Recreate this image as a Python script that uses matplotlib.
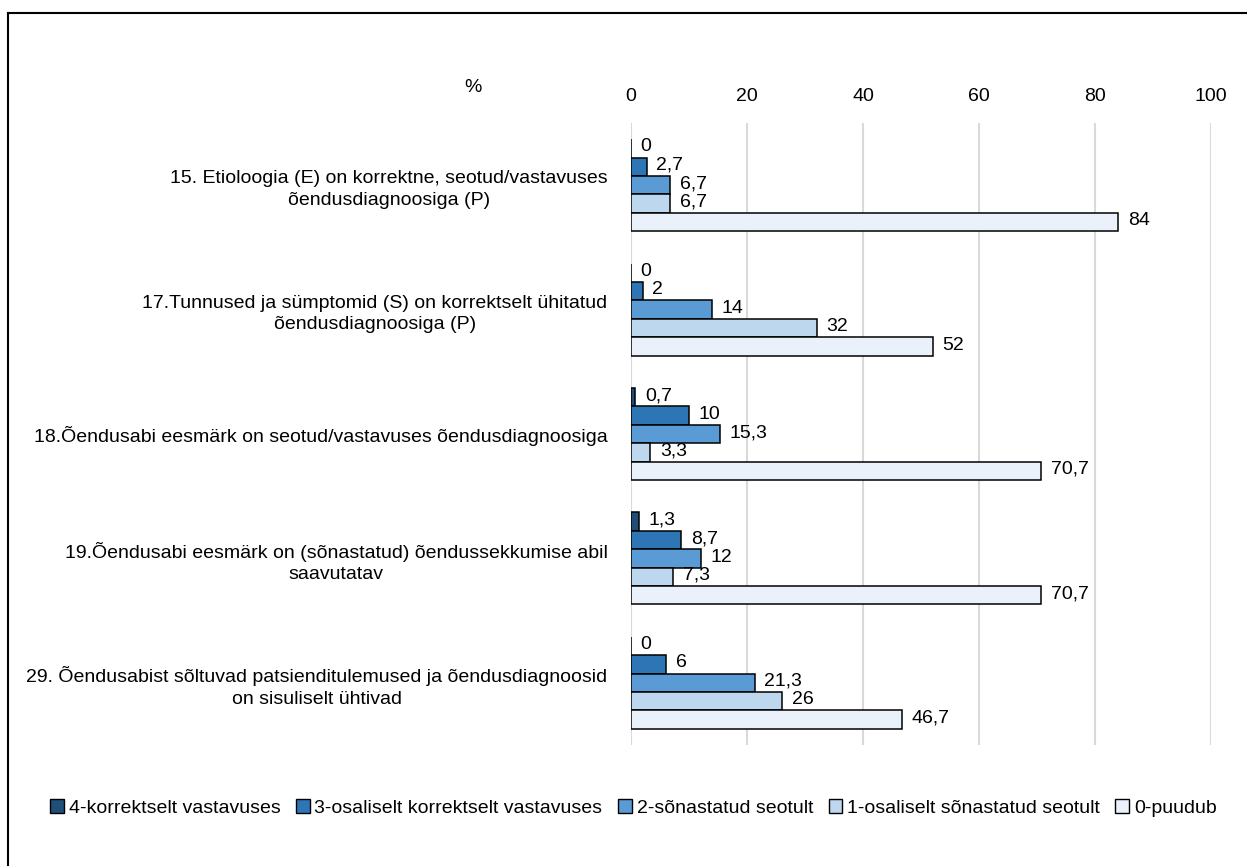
import matplotlib.pyplot as plt
from matplotlib.lines import Line2D
from matplotlib.patches import Patch

plt.rcParams["font.family"] = ["Liberation Sans", "DejaVu Sans"]

categories = [
    "15. Etioloogia (E) on korrektne, seotud/vastavuses\nõendusdiagnoosiga (P)",
    "17.Tunnused ja sümptomid (S) on korrektselt ühitatud\nõendusdiagnoosiga (P)",
    "18.Õendusabi eesmärk on seotud/vastavuses õendusdiagnoosiga",
    "19.Õendusabi eesmärk on (sõnastatud) õendussekkumise abil\nsaavutatav",
    "29. Õendusabist sõltuvad patsienditulemused ja õendusdiagnoosid\non sisuliselt ühtivad",
]
series_names = [
    "4-korrektselt vastavuses",
    "3-osaliselt korrektselt vastavuses",
    "2-sõnastatud seotult",
    "1-osaliselt sõnastatud seotult",
    "0-puudub",
]
val_4 = [0, 0, 0.7, 1.3, 0]
val_3 = [2.7, 2, 10, 8.7, 6]
val_2 = [6.7, 14, 15.3, 12, 21.3]
val_1 = [6.7, 32, 3.3, 7.3, 26]
val_0 = [84, 52, 70.7, 70.7, 46.7]
colors = ["#1F4E79", "#2E75B6", "#5B9BD5", "#BDD7EE", "#EAF1FA"]
x_ticks = [0, 20, 40, 60, 80, 100]

series = [val_4, val_3, val_2, val_1, val_0]
FS = 14

fig = plt.figure(figsize=(12.47, 8.66), dpi=100)
ax = fig.add_axes([631 / 1247, 1 - 745 / 866, 580 / 1247, 622 / 866])

bar_h = 0.148
for k, (vals, col) in enumerate(zip(series, colors)):
    ys = [i - 0.37 + bar_h * (k + 0.5) for i in range(len(categories))]
    ax.barh(ys, vals, height=bar_h, color=col, edgecolor="black",
            linewidth=1.1, zorder=3)
    for y, v in zip(ys, vals):
        lab = f"{v:g}".replace(".", ",")
        ax.annotate(lab, (v, y), xytext=(7, 1), textcoords="offset points",
                    ha="left", va="center", fontsize=FS, zorder=4)

ax.set_xlim(0, 100)
ax.set_ylim(4.5, -0.5)
ax.set_xticks(x_ticks)
ax.xaxis.tick_top()
ax.tick_params(axis="x", length=0, labelsize=FS, pad=13)
ax.set_yticks(range(len(categories)))
ax.set_yticklabels(categories, fontsize=FS, multialignment="center",
                   linespacing=1.35)
ax.tick_params(axis="y", length=0, pad=17)
ax.grid(axis="x", color="#D9D9D9", linewidth=1.5, zorder=0)
for s in ax.spines.values():
    s.set_visible(False)

fig.text(473 / 1247, 1 - 88 / 866, "%", fontsize=FS, ha="center", va="center")

handles = [Patch(facecolor=c, edgecolor="black", linewidth=1.0) for c in colors]
fig.legend(handles, series_names, loc="center", bbox_to_anchor=(0.508, 1 - 808 / 866),
           ncol=5, frameon=False, fontsize=FS, handlelength=0.7, handleheight=0.7,
           handletextpad=0.25, columnspacing=0.8)

# outer frame (left and top edges visible)
fig.add_artist(Line2D([8 / 1247, 8 / 1247], [0, 1 - 13 / 866], color="black",
                      linewidth=1.5, transform=fig.transFigure))
fig.add_artist(Line2D([8 / 1247, 1], [1 - 13 / 866, 1 - 13 / 866], color="black",
                      linewidth=1.5, transform=fig.transFigure))

fig.savefig("out.png", dpi=100)
